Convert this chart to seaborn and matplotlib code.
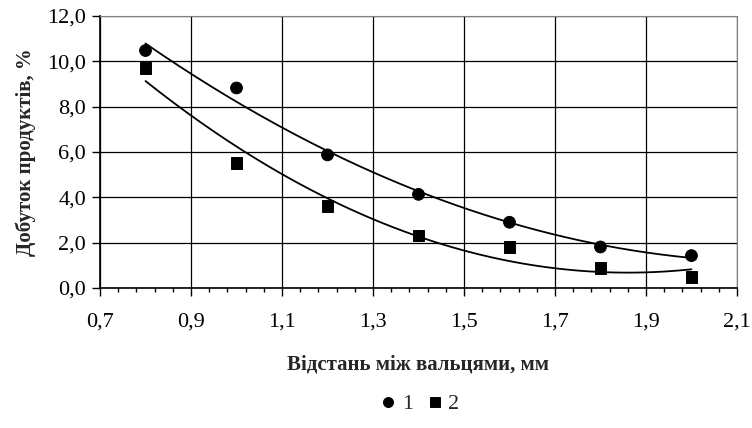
import numpy as np
import pandas as pd
import seaborn as sns
import matplotlib.pyplot as plt
from matplotlib.ticker import FixedLocator, FuncFormatter

sns.set_style("white")

gap = [0.8, 1.0, 1.2, 1.4, 1.6, 1.8, 2.0]
yield_1 = [10.47, 8.82, 5.87, 4.13, 2.90, 1.81, 1.43]
yield_2 = [9.70, 5.50, 3.62, 2.32, 1.82, 0.88, 0.47]
x_ticks = [0.7, 0.9, 1.1, 1.3, 1.5, 1.7, 1.9, 2.1]
y_ticks = [0, 2, 4, 6, 8, 10, 12]

plt.rcParams['font.family'] = ['Liberation Serif', 'DejaVu Serif']

df = pd.DataFrame({'x': gap * 2, 'y': yield_1 + yield_2,
                   'series': ['1'] * len(gap) + ['2'] * len(gap)})

fig = plt.figure(figsize=(7.52, 4.28), dpi=100)
ax = fig.add_axes([0.133, 0.327, 0.847, 0.636])

# trend lines (2nd order polynomial, like the spreadsheet trendline)
xs = np.linspace(min(gap), max(gap), 200)
for ys in (yield_1, yield_2):
    c = np.polyfit(gap, ys, 2)
    sns.lineplot(x=xs, y=np.polyval(c, xs), ax=ax, color='black',
                 linewidth=1.3, legend=False)

sns.scatterplot(data=df, x='x', y='y', style='series', markers=['o', 's'],
                color='black', s=72, edgecolor='black', ax=ax, zorder=5)

ax.set_xlim(0.7, 2.1)
ax.set_ylim(0, 12)
ax.xaxis.set_major_locator(FixedLocator(x_ticks))
ax.xaxis.set_minor_locator(FixedLocator(np.arange(0.7, 2.101, 0.04)))
ax.yaxis.set_major_locator(FixedLocator(y_ticks))
comma = FuncFormatter(lambda v, p: f"{v:.1f}".replace('.', ','))
ax.xaxis.set_major_formatter(comma)
ax.yaxis.set_major_formatter(comma)
ax.grid(True, which='major', color='black', linewidth=0.9)
ax.set_axisbelow(True)

ax.tick_params(axis='both', which='major', direction='out', length=6,
               width=1, colors='black', labelsize=16)
ax.tick_params(axis='x', which='minor', direction='out', length=3,
               width=1, colors='black')
ax.tick_params(axis='x', which='major', pad=12)
ax.tick_params(axis='y', which='major', pad=4)
ax.tick_params(bottom=True, left=True, which='both')
ax.tick_params(axis='y', which='minor', left=False)

for s in ['top', 'right']:
    ax.spines[s].set_color('#808080')
for s in ['left', 'bottom']:
    ax.spines[s].set_color('black')
    ax.spines[s].set_linewidth(1.2)

ax.set_xlabel('Відстань між вальцями, мм', fontsize=15, fontweight='bold',
              labelpad=16)
ax.set_ylabel('Добуток продуктів, %', fontsize=15, fontweight='bold',
              labelpad=8)

leg = ax.legend(loc='upper center', bbox_to_anchor=(0.5, -0.315), ncol=2,
                frameon=False, fontsize=16, handletextpad=0.1,
                handlelength=1.0, columnspacing=0.5, markerscale=0.85)

fig.savefig('out.png', dpi=100)
